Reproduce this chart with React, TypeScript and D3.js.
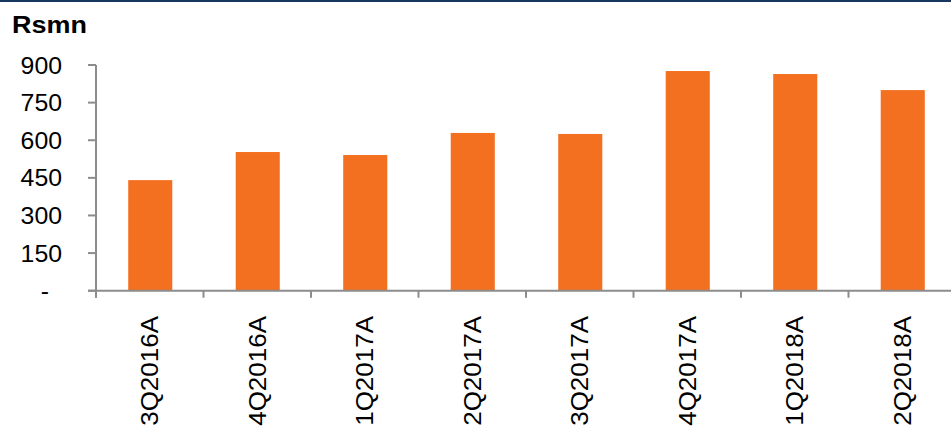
import * as d3 from "d3";
import React, { useRef, useEffect } from "react";

const categories = ["3Q2016A", "4Q2016A", "1Q2017A", "2Q2017A", "3Q2017A", "4Q2017A", "1Q2018A", "2Q2018A"];
const revenue = [441, 553, 541, 629, 625, 876, 864, 800];
const yTicks = [0, 150, 300, 450, 600, 750, 900];

const W = 951;
const H = 427;
const font = "'Liberation Sans', Arial, sans-serif";

function BarChart() {
  const ref = useRef<SVGSVGElement>(null);

  useEffect(() => {
    const svg = d3.select(ref.current);
    svg.selectAll("*").remove();

    const left = 96, base = 290.7, top = 65;
    const x = d3.scaleBand().domain(categories).range([left, left + 8 * 107.5]).padding(0);
    const y = d3.scaleLinear().domain([0, 900]).range([base, top]);
    const axisCol = "#8c8c8c";

    // navy rule along the top
    svg.append("rect").attr("x", 0).attr("y", 0).attr("width", W).attr("height", 2).attr("fill", "#17375e");

    // unit label
    svg.append("text")
      .attr("transform", "translate(12,32.7) scale(1.1,1)")
      .attr("font-family", font).attr("font-size", 24.5).attr("font-weight", "bold")
      .attr("fill", "#000").text("Rsmn");

    // bars
    const bw = x.bandwidth() * 0.41;
    svg.append("g").selectAll("rect").data(revenue).enter().append("rect")
      .attr("x", (d, i) => x(categories[i])! + x.bandwidth() / 2 - bw / 2 + 0.5)
      .attr("y", (d) => y(d))
      .attr("width", bw)
      .attr("height", (d) => y(0) - y(d))
      .attr("fill", "#f37021");

    // y axis
    svg.append("line").attr("x1", left).attr("x2", left).attr("y1", top).attr("y2", base + 7)
      .attr("stroke", axisCol).attr("stroke-width", 2);
    yTicks.forEach((t) => {
      svg.append("line").attr("x1", left - 8).attr("x2", left).attr("y1", y(t)).attr("y2", y(t))
        .attr("stroke", axisCol).attr("stroke-width", 2);
      const lx = t === 0 ? 49 : 62;
      svg.append("text")
        .attr("transform", `translate(${lx},${y(t) + 8.5}) scale(1.08,1)`)
        .attr("text-anchor", "end")
        .attr("font-family", font).attr("font-size", 23).attr("fill", "#000")
        .text(t === 0 ? "-" : d3.format("d")(t));
    });

    // x axis
    svg.append("line").attr("x1", left - 8).attr("x2", W).attr("y1", base).attr("y2", base)
      .attr("stroke", axisCol).attr("stroke-width", 2);
    categories.forEach((c) => {
      const bx = x(c)!;
      svg.append("line").attr("x1", bx).attr("x2", bx).attr("y1", base).attr("y2", base + 7)
        .attr("stroke", axisCol).attr("stroke-width", 2);
      // labels run past the bottom edge in the source too
      svg.append("text")
        .attr("transform", `translate(${bx + x.bandwidth() / 2 + 8.5},316) rotate(-90) scale(1.13,1)`)
        .attr("text-anchor", "end")
        .attr("font-family", font).attr("font-size", 23).attr("fill", "#000")
        .text(c);
    });
  }, []);

  return (
    <svg ref={ref} width={W} height={H}
      style={{ position: "absolute", left: 0, top: 0, background: "#fff", overflow: "hidden" }} />
  );
}

export default function App() {
  return <BarChart />;
}
